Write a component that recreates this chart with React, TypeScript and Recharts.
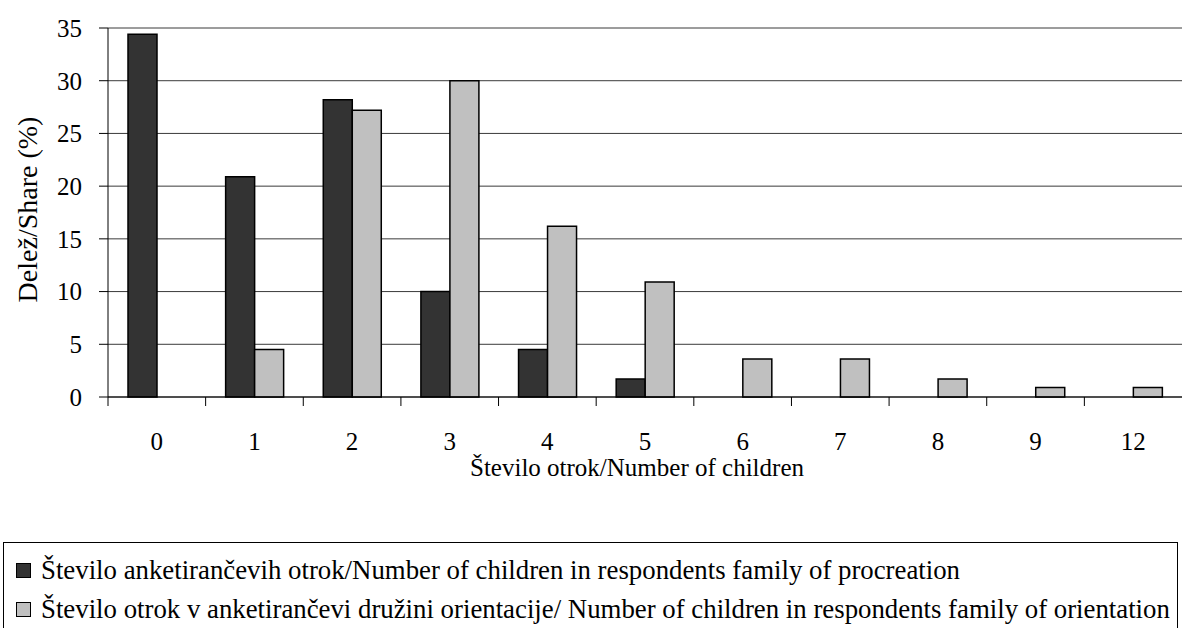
import { Bar, BarChart, CartesianGrid, XAxis, YAxis } from "recharts";

const CATEGORIES = ["0", "1", "2", "3", "4", "5", "6", "7", "8", "9", "12"];
const PROCREATION = [34.4, 20.9, 28.2, 10.0, 4.5, 1.7, 0, 0, 0, 0, 0];
const ORIENTATION = [0, 4.5, 27.2, 30.0, 16.2, 10.9, 3.6, 3.6, 1.7, 0.9, 0.9];
const Y_TICKS = [0, 5, 10, 15, 20, 25, 30, 35];

const NAME_PROCREATION = "Število anketirančevih otrok/Number of children in respondents family of procreation";
const NAME_ORIENTATION = "Število otrok v anketirančevi družini orientacije/ Number of children in respondents family of orientation";
const X_LABEL = "Število otrok/Number of children";
const Y_LABEL = "Delež/Share (%)";

const COLOR_DARK = "#333333";
const COLOR_LIGHT = "#c0c0c0";
const COLOR_GRID = "#3a3a3a";
const FONT = "Liberation Serif, DejaVu Serif, Times New Roman, serif";

const CHART_W = 1182;
const CHART_H = 628;
const Y_AXIS_W = 108;
const BAND = (CHART_W - Y_AXIS_W) / CATEGORIES.length;

const rows = CATEGORIES.map((c, i) => ({
  cat: c,
  procreation: PROCREATION[i],
  orientation: ORIENTATION[i],
}));

// x ticks: tick mark on category boundary, label in the middle
const XTick = (props: any) => {
  const { x, y, payload } = props;
  return (
    <g>
      <line x1={x - BAND / 2} x2={x - BAND / 2} y1={y} y2={y + 9} stroke="#000" strokeWidth={1} />
      <text x={x} y={y + 53} textAnchor="middle" fontSize={25} style={{ fontFamily: FONT }} fill="#000">
        {payload.value}
      </text>
    </g>
  );
};

export default function App() {
  return (
    <div style={{ position: "absolute", left: 0, top: 0, width: CHART_W, height: CHART_H, background: "#fff", fontFamily: FONT }}>
      <BarChart
        width={CHART_W}
        height={CHART_H}
        data={rows}
        margin={{ top: 28, right: 0, bottom: 141, left: 0 }}
        barGap={0}
        barSize={29}
        style={{ fontFamily: FONT }}
      >
        <CartesianGrid stroke={COLOR_GRID} vertical={false} />
        <XAxis
          dataKey="cat"
          height={90}
          tickSize={0}
          tickMargin={0}
          tick={XTick}
          interval={0}
          stroke="#000"
          label={({ viewBox }: any) => (
            <text
              x={viewBox.x + viewBox.width / 2 - 8}
              y={viewBox.y + 79}
              textAnchor="middle"
              fontSize={25}
              style={{ fontFamily: FONT }}
              fill="#000"
            >
              {X_LABEL}
            </text>
          )}
        />
        <YAxis
          width={Y_AXIS_W}
          domain={[0, 35]}
          ticks={Y_TICKS}
          interval={0}
          tickSize={9}
          tickMargin={17}
          stroke="#000"
          tick={{ fill: "#000", fontSize: 25, style: { fontFamily: FONT } }}
          label={({ viewBox }: any) => {
            const cx = viewBox.x + 27;
            const cy = viewBox.y + viewBox.height / 2 - 3;
            return (
              <text
                x={cx}
                y={cy}
                transform={`rotate(-90 ${cx} ${cy})`}
                textAnchor="middle"
                dominantBaseline="central"
                fontSize={28}
                style={{ fontFamily: FONT }}
                fill="#000"
              >
                {Y_LABEL}
              </text>
            );
          }}
        />
        <Bar dataKey="procreation" name={NAME_PROCREATION} fill={COLOR_DARK} stroke="#000" strokeWidth={1.5} isAnimationActive={false} />
        <Bar dataKey="orientation" name={NAME_ORIENTATION} fill={COLOR_LIGHT} stroke="#000" strokeWidth={1.5} isAnimationActive={false} />
      </BarChart>

      {/* legend box, cut by the bottom edge like the source */}
      <div
        style={{
          position: "absolute",
          left: 3,
          top: 542,
          width: 1175,
          height: 100,
          border: "1px solid #000",
          boxSizing: "border-box",
          fontSize: 26.8,
          color: "#000",
          whiteSpace: "nowrap",
          fontFamily: FONT,
        }}
      >
        {[
          { name: NAME_PROCREATION, color: COLOR_DARK },
          { name: NAME_ORIENTATION, color: COLOR_LIGHT },
        ].map((item, i) => (
          <div
            key={i}
            style={{ position: "absolute", left: 12, top: 12 + i * 39, height: 30, display: "flex", alignItems: "center" }}
          >
            <span
              style={{
                display: "inline-block",
                width: 13,
                height: 13,
                background: item.color,
                border: "1px solid #000",
                marginRight: 10,
                flexShrink: 0,
              }}
            />
            <span>{item.name}</span>
          </div>
        ))}
      </div>
    </div>
  );
}
